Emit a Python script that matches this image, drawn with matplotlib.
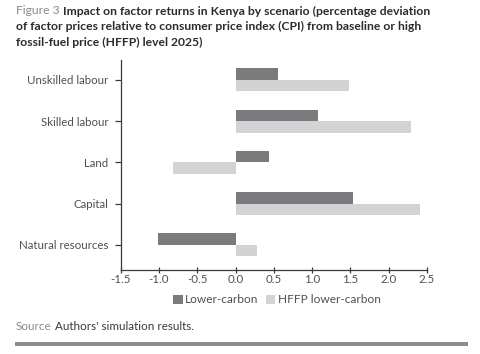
import matplotlib.pyplot as plt
import numpy as np
from matplotlib.patches import Rectangle

categories = ["Unskilled labour", "Skilled labour", "Land", "Capital", "Natural resources"]
lower_carbon = [0.55, 1.08, 0.44, 1.54, -1.01]
hffp_lower_carbon = [1.48, 2.29, -0.82, 2.41, 0.28]
series_names = ["Lower-carbon", "HFFP lower-carbon"]
x_ticks = [-1.5, -1.0, -0.5, 0.0, 0.5, 1.0, 1.5, 2.0, 2.5]

DARK = "#7b7b7d"
LIGHT = "#d3d3d5"
TEXT = "#505050"

plt.rcParams["font.family"] = ["Lato", "DejaVu Sans"]

W, H = 480, 354
fig = plt.figure(figsize=(W / 100, H / 100), dpi=100)

# axes box in pixel terms
left, right, top, bottom = 120.7, 427.0, 60.0, 269.7
ax = fig.add_axes([left / W, 1 - bottom / H, (right - left) / W, (bottom - top) / H])

y = np.arange(len(categories))[::-1]
h = 0.28
ax.barh(y + h / 2, lower_carbon, height=h, color=DARK, label=series_names[0])
ax.barh(y - h / 2, hffp_lower_carbon, height=h, color=LIGHT, label=series_names[1])

ax.set_xlim(-1.5, 2.5)
ax.set_ylim(-0.6, 4.48)
ax.set_xticks(x_ticks)
ax.set_xticklabels([f"{v:.1f}" for v in x_ticks])
ax.set_yticks(y)
ax.set_yticklabels(categories)

for side in ["top", "right"]:
    ax.spines[side].set_visible(False)
for side in ["left", "bottom"]:
    ax.spines[side].set_color("#3a3a3a")
    ax.spines[side].set_linewidth(0.9)

ax.tick_params(axis="y", direction="out", length=4, width=0.9, color="#3a3a3a",
               labelsize=8.3, labelcolor=TEXT, pad=5)
ax.tick_params(axis="x", direction="inout", length=4, width=0.9, color="#3a3a3a",
               labelsize=8.3, labelcolor=TEXT, pad=1)

leg = ax.legend(loc="upper center", bbox_to_anchor=(0.51, -0.095), ncol=2, frameon=False,
                fontsize=8.6, handlelength=0.8, handleheight=0.8, handletextpad=0.2,
                columnspacing=0.6, borderaxespad=0)
for t in leg.get_texts():
    t.set_color(TEXT)

# title, "Figure 3" in grey followed by bold text
t1 = fig.text(16 / W, 1 - 11 / H, "Figure 3", fontsize=8.7, color="#8a8a8a", va="center")
ax.annotate(" Impact on factor returns in Kenya by scenario (percentage deviation",
            xy=(1, 0.5), xycoords=t1, va="center", ha="left", fontsize=8.7,
            fontweight="bold", color="#2b2b2b", annotation_clip=False)
fig.text(16 / W, 1 - 26.5 / H,
         "of factor prices relative to consumer price index (CPI) from baseline or high",
         fontsize=8.7, fontweight="bold", color="#2b2b2b", va="center")
fig.text(16 / W, 1 - 42 / H, "fossil-fuel price (HFFP) level 2025)",
         fontsize=8.7, fontweight="bold", color="#2b2b2b", va="center")

# source line
s1 = fig.text(16 / W, 1 - 326 / H, "Source", fontsize=8.4, color="#8a8a8a", va="center")
ax.annotate(" Authors' simulation results.", xy=(1, 0.5), xycoords=s1, va="center",
            ha="left", fontsize=8.4, color="#3a3a3a", annotation_clip=False)

# grey rule at the bottom
fig.patches.append(Rectangle((15 / W, 1 - 346 / H), (468 - 15) / W, 4.5 / H,
                             transform=fig.transFigure, color="#8c8c8e", lw=0))

fig.savefig("out.png", dpi=100)
